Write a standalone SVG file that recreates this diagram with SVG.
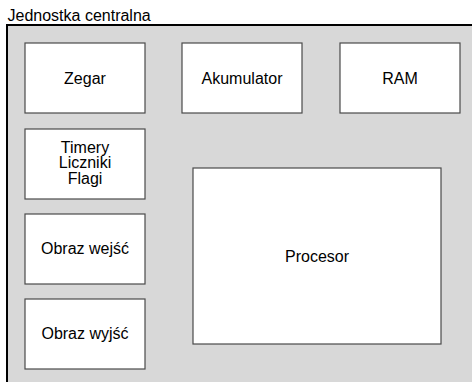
<svg xmlns="http://www.w3.org/2000/svg" width="472" height="382" viewBox="0 0 472 382">
<style>
  .outer { fill: #d8d8d8; stroke: #000; stroke-width: 2; }
  .box { fill: #fff; stroke: #4a4a4a; stroke-width: 1.2; }
  text { font-family: "Liberation Sans", Arial, sans-serif; font-size: 16px; fill: #000; }
  .c { text-anchor: middle; }
</style>
<rect width="472" height="382" fill="#fff"/>
<g id="jednostka-centralna">
  <rect class="outer" x="7" y="25" width="480" height="380"/>
  <text x="7.5" y="20.5">Jednostka centralna</text>
</g>
<g id="zegar">
  <rect class="box" x="25" y="43" width="120" height="70"/>
  <text class="c" x="85" y="83.5">Zegar</text>
</g>
<g id="akumulator">
  <rect class="box" x="182" y="43" width="120" height="70"/>
  <text class="c" x="242" y="83.5">Akumulator</text>
</g>
<g id="ram">
  <rect class="box" x="340" y="43" width="120" height="70"/>
  <text class="c" x="400" y="83.5">RAM</text>
</g>
<g id="timery">
  <rect class="box" x="25" y="129" width="120" height="70"/>
  <text class="c" x="85" y="152.5">Timery</text>
  <text class="c" x="85" y="168">Liczniki</text>
  <text class="c" x="85" y="183.5">Flagi</text>
</g>
<g id="obraz-wejsc">
  <rect class="box" x="25" y="214" width="120" height="70"/>
  <text class="c" x="85" y="253.5">Obraz wejść</text>
</g>
<g id="obraz-wyjsc">
  <rect class="box" x="25" y="299" width="120" height="70"/>
  <text class="c" x="85" y="338.5">Obraz wyjść</text>
</g>
<g id="procesor">
  <rect class="box" x="193" y="168" width="248" height="176"/>
  <text class="c" x="317" y="262">Procesor</text>
</g>
<g id="connectors"></g>
</svg>
